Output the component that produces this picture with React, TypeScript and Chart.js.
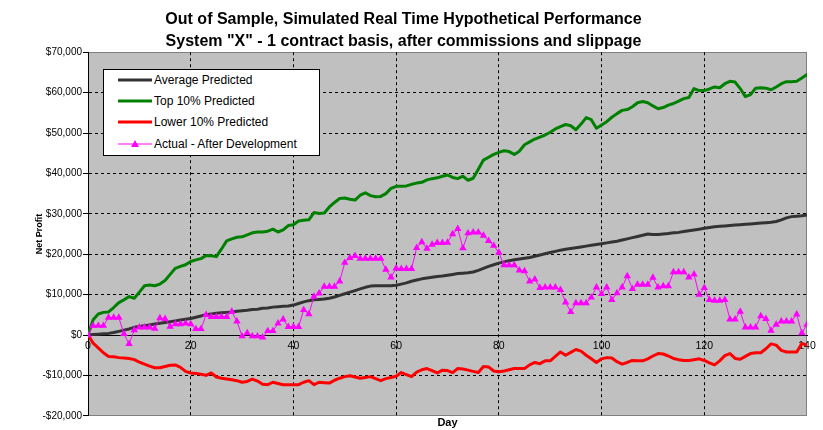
import { useEffect, useRef } from "react";
import { Chart, registerables } from "chart.js";

Chart.register(...registerables);

const FONT = 'Arial, "Liberation Sans", sans-serif';

const titleLines = [
  "Out of Sample, Simulated Real Time Hypothetical Performance",
  'System "X" - 1 contract basis, after commissions and slippage',
];

// x categories: trading days 0..140
const days = Array.from({ length: 141 }, (_, i) => i);

const seriesNames = [
  "Average Predicted",
  "Top 10% Predicted",
  "Lower 10% Predicted",
  "Actual - After Development",
];

// values, one per day
const averagePredicted = [
  0, 100, 200, 300, 400, 600, 900, 1200, 1500, 1900,
  2100, 2300, 2500, 2700, 2900, 3100, 3300, 3500, 3700, 3900,
  4100, 4400, 4700, 5000, 5200, 5400, 5500, 5600, 5700, 5900,
  6000, 6100, 6300, 6400, 6600, 6700, 6900, 7000, 7100, 7200,
  7400, 7800, 8200, 8500, 8700, 8800, 8900, 9100, 9400, 9800,
  10200, 10600, 11000, 11400, 11800, 12100, 12200, 12200, 12200, 12200,
  12300, 12600, 12900, 13300, 13600, 13900, 14100, 14300, 14500, 14600,
  14800, 15000, 15200, 15300, 15400, 15600, 16000, 16500, 17000, 17400,
  17800, 18100, 18400, 18600, 18800, 19000, 19200, 19500, 19800, 20100,
  20400, 20700, 21000, 21200, 21400, 21600, 21800, 22000, 22200, 22400,
  22600, 22800, 23000, 23200, 23500, 23800, 24100, 24400, 24700, 25000,
  24900, 24900, 25000, 25100, 25300, 25400, 25600, 25800, 26000, 26200,
  26400, 26600, 26800, 26900, 27000, 27100, 27200, 27300, 27400, 27500,
  27600, 27700, 27800, 27900, 28100, 28500, 29000, 29300, 29400, 29500,
  29700,
];

const topPredicted = [
  0, 3800, 5200, 5600, 5700, 6800, 8000, 8700, 9500, 9100,
  10600, 12200, 12400, 12200, 12600, 13500, 15000, 16500, 17000, 17400,
  18200, 18600, 18900, 19700, 19600, 19400, 21300, 23300, 23800, 24200,
  24300, 24800, 25300, 25500, 25500, 25700, 26200, 25500, 26000, 27100,
  27300, 28200, 28400, 28500, 30300, 30100, 30200, 31700, 32800, 33800,
  33900, 33600, 33400, 34600, 35200, 34500, 34200, 34300, 35000, 36300,
  36800, 36800, 36900, 37300, 37600, 37800, 38400, 38700, 38900, 39300,
  39600, 39000, 38700, 39300, 38300, 38800, 41000, 43300, 44000, 44700,
  45200, 45600, 45400, 44700, 45500, 47100, 47800, 48500, 49000, 49500,
  50200, 51000, 51600, 52100, 51800, 50800, 52200, 53800, 53300, 51200,
  52000, 52800, 53900, 54800, 55600, 55800, 56500, 57500, 57800, 57500,
  56700, 56000, 56300, 56900, 57300, 57900, 58500, 58800, 61000, 60500,
  60500, 60900, 61400, 61200, 62200, 62800, 62600, 61000, 59000, 59500,
  61100, 61200, 61100, 60700, 61400, 62200, 62700, 62700, 62800, 63600,
  64500,
];

const lowerPredicted = [
  0, -2000, -3200, -4400, -5300, -5400, -5600, -5700, -5800, -6100,
  -6700, -7200, -7700, -8100, -8100, -7800, -7500, -7400, -8000, -9000,
  -9400, -9500, -9700, -10000, -9400, -10400, -10700, -10900, -11100, -11300,
  -11700, -11500, -10900, -11400, -12200, -12300, -11700, -12000, -12300, -12300,
  -12300, -12300, -11700, -11300, -12300, -11700, -11800, -11900, -11200, -10700,
  -10300, -10100, -10400, -10700, -10500, -10300, -10800, -11300, -10800, -10500,
  -10200, -9300, -9800, -10300, -9200, -8600, -8300, -8800, -9400, -8700,
  -8800, -9300, -8300, -8400, -8700, -9000, -9300, -7800, -7900, -8900,
  -9100, -8900, -8600, -8300, -8300, -8300, -7400, -6800, -7100, -6400,
  -6400, -5300, -4200, -5000, -4300, -3600, -4000, -5000, -5900, -6800,
  -5900, -5600, -5700, -6600, -7200, -6800, -6300, -6400, -6400, -5900,
  -5200, -4600, -4700, -5200, -5800, -6100, -6300, -6300, -6100, -5900,
  -6300, -6900, -7400, -6400, -5100, -4600, -5800, -6000, -5300, -4600,
  -4400, -4400, -3400, -2200, -2500, -3800, -4200, -4200, -4200, -2100,
  -2500,
];

const actualAfterDevelopment = [
  0, 2300, 2300, 2300, 4300, 4300, 4300, 300, -2200, 1200,
  1900, 1900, 1900, 1600, 4200, 4000, 2100, 2700, 2700, 2900,
  2700, 1500, 1500, 5000, 4500, 4500, 4500, 4500, 5800, 3400,
  -300, 500, -300, -300, -600, 1000, 1000, 2900, 3900, 2000,
  2000, 2000, 6200, 5200, 9500, 10300, 12000, 12000, 12000, 13300,
  17900, 19100, 19600, 18900, 18900, 18900, 18900, 18900, 16200, 14300,
  16500, 16400, 16400, 16400, 21600, 23000, 21400, 22400, 22800, 22800,
  22900, 25000, 26300, 21500, 25200, 25400, 25400, 24600, 23300, 22100,
  20400, 17300, 17300, 17300, 16000, 15800, 13300, 13800, 11700, 11800,
  11800, 11800, 11200, 8100, 5700, 7900, 7900, 7900, 9300, 11800,
  10200, 11800, 8700, 10400, 11800, 14600, 11400, 12500, 12500, 12500,
  14200, 11800, 12100, 12100, 15600, 15600, 15600, 14300, 15000, 10000,
  11700, 8700, 8500, 8500, 8700, 3900, 3900, 5800, 1900, 1900,
  1900, 4700, 4000, 1100, 2600, 3400, 3400, 3400, 5100, 500,
  2600,
];

const seriesColors = ["#333333", "#008000", "#ff0000", "#ff00ff"];

const plotAreaPlugin = {
  id: "plotArea",
  beforeDraw(chart: Chart) {
    const { ctx, chartArea: a } = chart;
    ctx.save();
    ctx.fillStyle = "#c0c0c0";
    ctx.fillRect(a.left, a.top, a.right - a.left, a.bottom - a.top);
    ctx.strokeStyle = "#808080";
    ctx.lineWidth = 1;
    ctx.strokeRect(
      Math.round(a.left) + 0.5,
      Math.round(a.top) + 0.5,
      Math.round(a.right - a.left) - 1,
      Math.round(a.bottom - a.top) - 1,
    );
    ctx.restore();
  },
};

function money(v: number) {
  const s = "$" + Math.abs(v).toLocaleString("en-US");
  return v < 0 ? "-" + s : s;
}

export default function App() {
  const canvasRef = useRef<HTMLCanvasElement>(null);
  const chartRef = useRef<Chart | null>(null);

  useEffect(() => {
    if (!canvasRef.current) return;
    const ctx = canvasRef.current.getContext("2d");
    if (!ctx) return;

    const chart = new Chart(ctx, {
      type: "line",
      data: {
        labels: days,
        datasets: [
          {
            label: seriesNames[0],
            data: averagePredicted,
            borderColor: seriesColors[0],
            borderWidth: 3,
            pointRadius: 0,
            order: 3,
          },
          {
            label: seriesNames[1],
            data: topPredicted,
            borderColor: seriesColors[1],
            borderWidth: 3,
            pointRadius: 0,
            order: 2,
          },
          {
            label: seriesNames[2],
            data: lowerPredicted,
            borderColor: seriesColors[2],
            borderWidth: 3,
            pointRadius: 0,
            order: 1,
          },
          {
            label: seriesNames[3],
            data: actualAfterDevelopment,
            borderColor: seriesColors[3],
            borderWidth: 1,
            pointStyle: "triangle",
            pointRadius: 4.3,
            pointBackgroundColor: seriesColors[3],
            pointBorderColor: seriesColors[3],
            pointBorderWidth: 0,
            order: 0,
          },
        ],
      },
      options: {
        animation: false,
        responsive: true,
        maintainAspectRatio: false,
        layout: { padding: { left: 0, right: 16, top: 0, bottom: 0 } },
        elements: {
          line: { tension: 0, borderJoinStyle: "round", borderCapStyle: "round" },
        },
        plugins: {
          legend: { display: false },
          tooltip: { enabled: false },
          title: {
            display: true,
            text: titleLines,
            color: "#000",
            font: { family: FONT, size: 16, weight: "bold", lineHeight: 1.35 },
            padding: { top: 9, bottom: 0 },
          },
        },
        scales: {
          x: {
            type: "linear",
            position: "bottom",
            min: 0,
            max: 140,
            ticks: { display: false, stepSize: 20 },
            grid: {
              drawTicks: false,
              lineWidth: 1,
              color: (c: any) =>
                c.tick && (c.tick.value === 0 || c.tick.value === 140)
                  ? "rgba(0,0,0,0)"
                  : "#000",
            },
            border: { display: false, dash: [3, 3] },
            title: {
              display: true,
              text: "Day",
              color: "#000",
              font: { family: FONT, size: 11, weight: "bold" },
              padding: { top: 1, bottom: 0 },
            },
          },
          x2: {
            type: "linear",
            axis: "x",
            position: { y: 0 },
            min: 0,
            max: 140,
            ticks: {
              stepSize: 20,
              maxRotation: 0,
              padding: 5,
              color: "#000",
              font: { family: FONT, size: 10.5 },
            },
            grid: { display: false, drawTicks: false },
            border: { display: true, color: "#000", width: 1 },
            afterFit: (s: any) => {
              s.height = 0;
            },
          },
          y: {
            type: "linear",
            min: -20000,
            max: 70000,
            ticks: {
              stepSize: 10000,
              padding: 1,
              color: "#000",
              font: { family: FONT, size: 10 },
              callback: (v: any) => money(Number(v)),
            },
            grid: {
              lineWidth: 1,
              tickLength: 5,
              tickColor: "#000",
              tickBorderDash: [],
              color: (c: any) =>
                c.tick &&
                (c.tick.value === 0 || c.tick.value === 70000 || c.tick.value === -20000)
                  ? "rgba(0,0,0,0)"
                  : "#000",
            },
            border: { display: true, color: "#000", width: 1, dash: [3, 3] },
            title: {
              display: true,
              text: "Net Profit",
              color: "#000",
              font: { family: FONT, size: 9, weight: "bold" },
              padding: { top: 34, bottom: 0 },
            },
            afterFit: (s: any) => {
              s.width = 88;
            },
          },
        },
      } as any,
      plugins: [plotAreaPlugin],
    });

    chartRef.current = chart;
    return () => {
      chart.destroy();
      chartRef.current = null;
    };
  }, []);

  return (
    <div
      style={{
        position: "absolute",
        left: 0,
        top: 0,
        width: 823,
        height: 430,
        background: "#fff",
      }}
    >
      <canvas ref={canvasRef} />
      <div
        style={{
          position: "absolute",
          left: 103,
          top: 69,
          width: 217,
          height: 87,
          boxSizing: "border-box",
          border: "1px solid #000",
          background: "#fff",
          fontFamily: FONT,
          fontSize: 12,
          color: "#000",
        }}
      >
        {seriesNames.map((name, i) => (
          <div
            key={name}
            style={{
              position: "absolute",
              left: 0,
              top: 3 + i * 21.2,
              height: 14,
              width: 214,
            }}
          >
            <svg
              width={50}
              height={14}
              style={{ position: "absolute", left: 0, top: 0 }}
            >
              <line
                x1={14}
                x2={48}
                y1={7}
                y2={7}
                stroke={seriesColors[i]}
                strokeWidth={i < 3 ? 3 : 1}
              />
              {i === 3 && (
                <polygon points="31,3 35,10 27,10" fill={seriesColors[3]} />
              )}
            </svg>
            <span
              style={{
                position: "absolute",
                left: 50,
                top: 0,
                lineHeight: "14px",
                whiteSpace: "nowrap",
              }}
            >
              {name}
            </span>
          </div>
        ))}
      </div>
    </div>
  );
}
